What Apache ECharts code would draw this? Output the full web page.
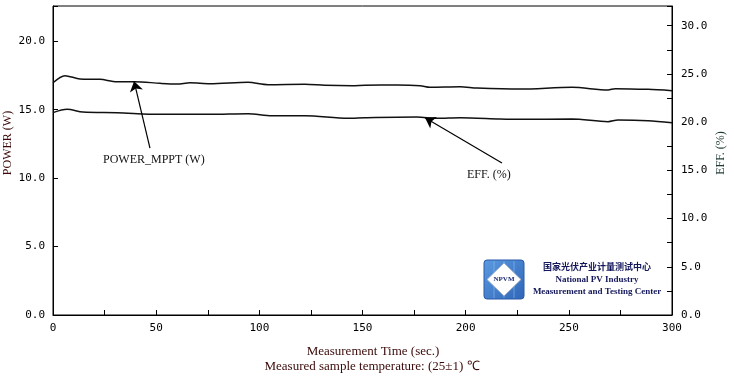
<!DOCTYPE html>
<html>
<head>
<meta charset="utf-8">
<script src="https://cdn.jsdelivr.net/npm/echarts@6/dist/echarts.min.js"></script>
<style>
html,body{margin:0;padding:0;background:#fff;}
#chart{width:734px;height:377px;}
</style>
</head>
<body>
<div id="chart"></div>
<script>
// ---- data ----
var powerTime  = [0, 5.8, 13.1, 22.8, 31, 39.7, 51.9, 60.1, 66.4, 76.1, 94.5, 104.2, 122.1, 131.8, 144.9, 151.2, 166.7, 177.9, 182.7, 197.3, 205.5, 226.3, 251.5, 269, 272.4, 288.4, 300];
var powerW     = [16.97, 17.49, 17.25, 17.22, 17.05, 17.05, 16.93, 16.88, 16.97, 16.90, 17.00, 16.83, 16.86, 16.79, 16.76, 16.79, 16.81, 16.76, 16.64, 16.68, 16.59, 16.51, 16.64, 16.44, 16.54, 16.49, 16.39];
var effTime    = [0, 6.8, 14.5, 31, 51.9, 76.1, 94.5, 106.1, 122.1, 143, 151.2, 176.4, 186.1, 197.3, 216.6, 226.3, 251.5, 269, 273.8, 288.4, 300];
var effPct     = [20.98, 21.33, 21.05, 20.98, 20.81, 20.81, 20.88, 20.67, 20.67, 20.40, 20.46, 20.53, 20.40, 20.46, 20.33, 20.29, 20.33, 20.05, 20.22, 20.15, 19.94];
// annotation arrows: [start, end] in data units
var powerArrow = [[47, 12.2], [39.3, 17.08]];
var effArrow   = [[217.6, 15.76], [180.3, 20.45]];
var xTicks = [0, 50, 100, 150, 200, 250, 300];

function pairs(xs, ys){ return xs.map(function(x,i){ return [x, ys[i]]; }); }

var chart = echarts.init(document.getElementById('chart'), null, {renderer:'canvas'});
var labelFont = {fontFamily:'DejaVu Sans Mono', fontSize:11, color:'#000'};
var titleColor = '#3c0a0a';

var option = {
  backgroundColor:'#fff',
  animation:false,
  grid:{left:53, right:62, top:6, bottom:62, show:true, borderColor:'#000', borderWidth:1, containLabel:false, outerBoundsMode:'none'},
  xAxis:{
    type:'value', min:0, max:300, interval:25,
    axisLine:{lineStyle:{color:'#000', width:1}},
    axisTick:{inside:true, length:5, lineStyle:{color:'#000'}},
    axisLabel:Object.assign({margin:8, formatter:function(v){ return xTicks.indexOf(v)>=0 ? String(v) : ''; }}, labelFont),
    splitLine:{show:false}
  },
  yAxis:[{
    type:'value', min:0, max:22.58, interval:5, position:'left',
    axisLine:{show:true, lineStyle:{color:'#000', width:1}},
    axisTick:{show:true, inside:true, length:5, lineStyle:{color:'#000'}},
    axisLabel:Object.assign({margin:8, formatter:function(v){ return (Math.abs(v%5)<1e-9) ? v.toFixed(1) : ''; }}, labelFont),
    splitLine:{show:false}
  },{
    type:'value', min:0, max:32.04, interval:2.5, position:'right',
    axisLine:{show:true, lineStyle:{color:'#000', width:1}},
    axisTick:{show:true, inside:true, length:5, lineStyle:{color:'#000'}},
    axisLabel:Object.assign({margin:9, formatter:function(v){ return (Math.abs(v%5)<1e-9) ? v.toFixed(1) : ''; }}, labelFont),
    splitLine:{show:false}
  }],
  series:[{
    name:'POWER_MPPT (W)', type:'line', yAxisIndex:0, smooth:0.3, symbol:'none',
    data:pairs(powerTime, powerW),
    lineStyle:{color:'#111', width:1.5},
    markLine:{
      silent:true, symbol:['none','arrow'], symbolSize:10,
      label:{show:false},
      lineStyle:{color:'#000', width:1.2, type:'solid'},
      data:[[{coord:powerArrow[0]},{coord:powerArrow[1]}]]
    }
  },{
    name:'EFF. (%)', type:'line', yAxisIndex:1, smooth:0.3, symbol:'none',
    data:pairs(effTime, effPct),
    lineStyle:{color:'#111', width:1.5},
    markLine:{
      silent:true, symbol:['none','arrow'], symbolSize:10,
      label:{show:false},
      lineStyle:{color:'#000', width:1.2, type:'solid'},
      data:[[{coord:effArrow[0]},{coord:effArrow[1]}]]
    }
  }],
  graphic:[
    {type:'text', x:8, y:143, rotation:Math.PI/2, style:{text:'POWER (W)', font:'12px "Liberation Serif"', fill:titleColor, align:'center', verticalAlign:'middle'}},
    {type:'text', x:721, y:153, rotation:Math.PI/2, style:{text:'EFF. (%)', font:'12px "Liberation Serif"', fill:'#1e3a36', align:'center', verticalAlign:'middle'}},
    {type:'text', x:373, y:352, style:{text:'Measurement Time (sec.)', font:'13px "Liberation Serif"', fill:titleColor, align:'center', verticalAlign:'middle'}},
    {type:'text', left:103, top:154, style:{text:'POWER_MPPT (W)', font:'12px "Liberation Serif"', fill:'#111'}},
    {type:'text', left:467, top:169, style:{text:'EFF. (%)', font:'12px "Liberation Serif"', fill:'#111'}},
    {type:'text', x:372, y:367, style:{text:'Measured sample temperature: (25±1) ℃', font:'13px "Liberation Serif"', fill:titleColor, align:'center', verticalAlign:'middle'}},
    // logo
    {type:'rect', shape:{x:484, y:260, width:40, height:39, r:3},
      style:{fill:new echarts.graphic.LinearGradient(0,0,1,1,[{offset:0,color:'#5b9be0'},{offset:1,color:'#2f65b8'}]), stroke:'#2a5aa8', lineWidth:1}},
    {type:'line', shape:{x1:494, y1:261, x2:494, y2:298}, style:{stroke:'#8fbcf0', lineWidth:0.6}},
    {type:'line', shape:{x1:504, y1:261, x2:504, y2:298}, style:{stroke:'#8fbcf0', lineWidth:0.6}},
    {type:'line', shape:{x1:514, y1:261, x2:514, y2:298}, style:{stroke:'#8fbcf0', lineWidth:0.6}},
    {type:'polygon', shape:{points:[[504,263],[521,279.5],[504,296],[487,279.5]]}, style:{fill:'#fff', stroke:'#9aa8c0', lineWidth:0.8}},
    {type:'text', x:504, y:279.5, style:{text:'NPVM', font:'bold 7px "Liberation Serif"', fill:'#1c2a70', align:'center', verticalAlign:'middle'}},
    {type:'text', x:597, y:267, style:{text:'国家光伏产业计量测试中心', font:'bold 9px "Noto Sans CJK SC"', fill:'#14185a', align:'center', verticalAlign:'middle'}},
    {type:'text', x:597, y:280, style:{text:'National PV Industry', font:'bold 9px "Liberation Serif"', fill:'#14185a', align:'center', verticalAlign:'middle'}},
    {type:'text', x:597, y:292, style:{text:'Measurement and Testing Center', font:'bold 9px "Liberation Serif"', fill:'#14185a', align:'center', verticalAlign:'middle'}}
  ]
};
chart.setOption(option);
</script>
</body>
</html>
